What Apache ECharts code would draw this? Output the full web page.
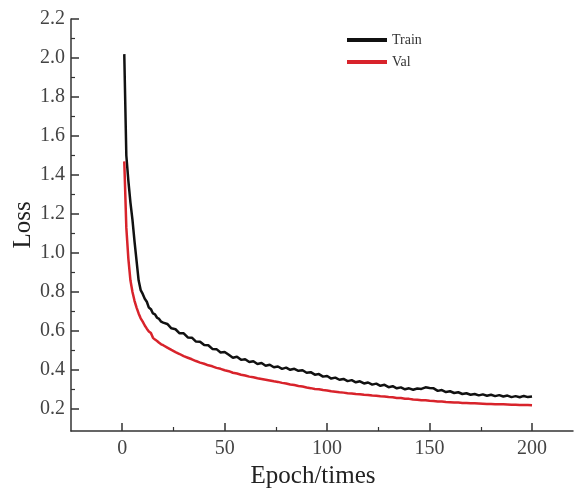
<!DOCTYPE html>
<html>
<head>
<meta charset="utf-8">
<script src="https://cdn.jsdelivr.net/npm/echarts@6/dist/echarts.min.js"></script>
<style>
    html, body { margin: 0; padding: 0; background: #ffffff; }
    #loss-chart { width: 574px; height: 488px; }
</style>
</head>
<body>
<div id="loss-chart"></div>
<script>
// epochs sampled: every epoch up to 20, then every 2nd epoch
const epochs = [
    1, 2, 3, 4, 5, 6, 7, 8, 9, 10, 11, 12, 13, 14, 15, 16, 17, 18, 19, 20,
    22, 24, 26, 28, 30, 32, 34, 36, 38, 40, 42, 44, 46, 48, 50, 52, 54, 56, 58, 60,
    62, 64, 66, 68, 70, 72, 74, 76, 78, 80, 82, 84, 86, 88, 90, 92, 94, 96, 98, 100,
    102, 104, 106, 108, 110, 112, 114, 116, 118, 120, 122, 124, 126, 128, 130, 132, 134, 136, 138, 140,
    142, 144, 146, 148, 150, 152, 154, 156, 158, 160, 162, 164, 166, 168, 170, 172, 174, 176, 178, 180,
    182, 184, 186, 188, 190, 192, 194, 196, 198, 200
];
const trainLoss = [
    2.02, 1.50, 1.37, 1.26, 1.17, 1.06, 0.96, 0.86, 0.81, 0.79, 0.765, 0.75, 0.72, 0.712, 0.69, 0.685, 0.668, 0.662, 0.648, 0.643,
    0.636, 0.614, 0.609, 0.588, 0.588, 0.567, 0.566, 0.546, 0.545, 0.528, 0.527, 0.508, 0.507, 0.49, 0.492, 0.478, 0.463, 0.468, 0.452, 0.455,
    0.441, 0.445, 0.431, 0.436, 0.422, 0.427, 0.414, 0.418, 0.406, 0.412, 0.401, 0.406, 0.396, 0.399, 0.386, 0.389, 0.376, 0.379, 0.366, 0.369,
    0.356, 0.361, 0.35, 0.354, 0.343, 0.348, 0.337, 0.342, 0.331, 0.336, 0.325, 0.33, 0.319, 0.324, 0.312, 0.317, 0.306, 0.311, 0.301, 0.306,
    0.299, 0.305, 0.303, 0.311, 0.308, 0.306, 0.293, 0.297, 0.287, 0.291, 0.282, 0.286, 0.277, 0.281, 0.273, 0.277, 0.27, 0.275, 0.268, 0.273,
    0.266, 0.271, 0.264, 0.269, 0.261, 0.266, 0.26, 0.267, 0.261, 0.264
];
const valLoss = [
    1.47, 1.13, 0.97, 0.86, 0.80, 0.755, 0.72, 0.69, 0.665, 0.648, 0.628, 0.612, 0.598, 0.59, 0.565, 0.556, 0.549, 0.54, 0.532, 0.527,
    0.515, 0.503, 0.492, 0.482, 0.471, 0.463, 0.455, 0.446, 0.438, 0.432, 0.424, 0.419, 0.411, 0.406, 0.399, 0.394, 0.386, 0.382, 0.376, 0.372,
    0.366, 0.363, 0.358, 0.354, 0.35, 0.346, 0.342, 0.339, 0.334, 0.331, 0.326, 0.323, 0.318, 0.315, 0.31, 0.307, 0.303, 0.301, 0.297, 0.295,
    0.291, 0.289, 0.286, 0.284, 0.281, 0.28, 0.277, 0.276, 0.273, 0.272, 0.269, 0.268, 0.265, 0.264, 0.261, 0.26, 0.257, 0.256, 0.253, 0.252,
    0.249, 0.248, 0.245, 0.245, 0.242, 0.241, 0.239, 0.238, 0.236, 0.235, 0.233, 0.233, 0.231, 0.231, 0.229, 0.229, 0.228, 0.227, 0.226, 0.226,
    0.225, 0.224, 0.224, 0.223, 0.222, 0.222, 0.221, 0.22, 0.22, 0.219
];
const xTicks = [0, 50, 100, 150, 200];
const xMinorTicks = [25, 75, 125, 175];
const yTicks = [0.2, 0.4, 0.6, 0.8, 1.0, 1.2, 1.4, 1.6, 1.8, 2.0, 2.2];
const yMinorTicks = [0.3, 0.5, 0.7, 0.9, 1.1, 1.3, 1.5, 1.7, 1.9, 2.1];

function toPairs(xs, ys) {
    return xs.map((x, i) => [x, ys[i]]);
}

const fontName = 'Liberation Serif';
const axisColor = '#333333';
const labelColor = '#444444';

function baseXAxis() {
    return {
        type: 'value',
        position: 'bottom',
        min: -25,
        max: 220,
        splitLine: { show: false },
        axisLine: { onZero: false, lineStyle: { color: axisColor, width: 1.5 } }
    };
}
function baseYAxis() {
    return {
        type: 'value',
        position: 'left',
        min: 0.0872,
        max: 2.2,
        splitLine: { show: false },
        axisLine: { onZero: false, lineStyle: { color: axisColor, width: 1.5 } }
    };
}

const chart = echarts.init(document.getElementById('loss-chart'));
chart.setOption({
    backgroundColor: '#ffffff',
    animation: false,
    grid: { left: 71, right: 1, top: 19, bottom: 57, outerBoundsMode: 'none' },
    legend: {
        orient: 'vertical',
        left: 342,
        top: 28,
        itemWidth: 40,
        itemHeight: 4,
        itemGap: 8,
        icon: 'rect',
        textStyle: { fontFamily: fontName, fontSize: 14, color: '#333333' },
        data: ['Train', 'Val']
    },
    xAxis: [
        Object.assign(baseXAxis(), {
            name: 'Epoch/times',
            nameLocation: 'middle',
            nameGap: 33,
            nameTextStyle: { fontFamily: fontName, fontSize: 25, color: '#222222', padding: [0, 18, 0, 0] },
            axisTick: { inside: true, length: 8, customValues: xTicks, lineStyle: { color: axisColor, width: 1.5 } },
            axisLabel: { customValues: xTicks, margin: 8, fontFamily: fontName, fontSize: 20, color: labelColor }
        }),
        Object.assign(baseXAxis(), {
            axisLine: { show: false, onZero: false },
            axisTick: { inside: true, length: 4, customValues: xMinorTicks, lineStyle: { color: axisColor, width: 1.2 } },
            axisLabel: { show: false }
        })
    ],
    yAxis: [
        Object.assign(baseYAxis(), {
            name: 'Loss',
            nameLocation: 'middle',
            nameGap: 35,
            nameMoveOverlap: false,
            nameTextStyle: { fontFamily: fontName, fontSize: 25, color: '#222222' },
            axisTick: { inside: true, length: 8, customValues: yTicks, lineStyle: { color: axisColor, width: 1.5 } },
            axisLabel: {
                customValues: yTicks,
                margin: 6,
                fontFamily: fontName,
                fontSize: 20,
                color: labelColor,
                formatter: v => v.toFixed(1)
            }
        }),
        Object.assign(baseYAxis(), {
            axisLine: { show: false, onZero: false },
            axisTick: { inside: true, length: 4, customValues: yMinorTicks, lineStyle: { color: axisColor, width: 1.2 } },
            axisLabel: { show: false }
        })
    ],
    series: [
        {
            name: 'Train',
            type: 'line',
            showSymbol: false,
            color: '#111111',
            lineStyle: { width: 2.5 },
            data: toPairs(epochs, trainLoss)
        },
        {
            name: 'Val',
            type: 'line',
            showSymbol: false,
            color: '#d8232b',
            lineStyle: { width: 2.5 },
            data: toPairs(epochs, valLoss)
        }
    ]
});
</script>
</body>
</html>
